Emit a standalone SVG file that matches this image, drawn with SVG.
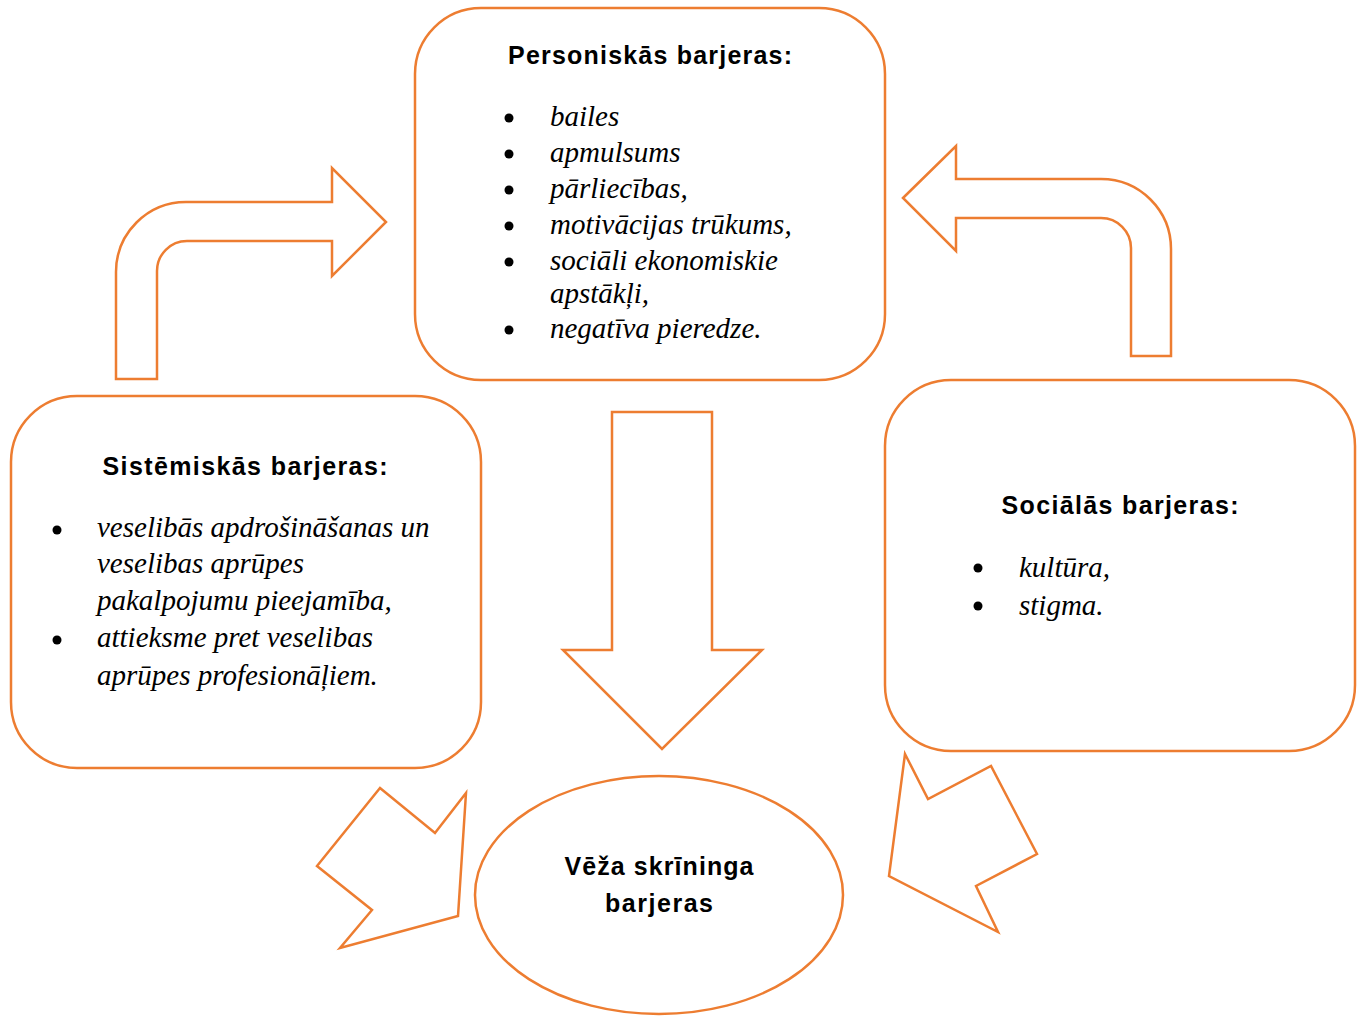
<svg xmlns="http://www.w3.org/2000/svg" width="1358" height="1016" viewBox="0 0 1358 1016">
<style>
.shape{fill:#fff;stroke:#ED7D31;stroke-width:2.5;stroke-linejoin:miter}
.title{font-family:"Liberation Sans",Arial,sans-serif;font-weight:bold;font-size:25px;fill:#000}
.item{font-family:"Liberation Serif","Times New Roman",serif;font-style:italic;font-size:29px;fill:#000}
.dot{fill:#000}
</style>
<rect width="1358" height="1016" fill="#fff"/>
<g id="connectors">
<path class="shape" d="M116,379 L116,272 A70,70 0 0 1 186,202 L332,202 L332,168 L386,222 L332,276 L332,241 L187,241 A30,30 0 0 0 157,271 L157,379 Z"/>
<path class="shape" d="M903,198 L956,146 L956,179 L1101,179 A70,70 0 0 1 1171,249 L1171,356 L1131,356 L1131,248 A30,30 0 0 0 1101,218 L956,218 L956,251 Z"/>
<path class="shape" d="M612,412 L712,412 L712,650 L762,650 L662,749 L563,650 L612,650 Z"/>
<polygon class="shape" points="380,788 435,833 466,793 458,916 340,948 372,910 317,866"/>
<polygon class="shape" points="905,754 928,799 991,766 1037,854 976,886 998,932 889,876"/>
</g>
<g id="personal">
<rect class="shape" x="415" y="8" width="470" height="372" rx="66" ry="66"/>
<text class="title" x="650" y="64" text-anchor="middle" textLength="284" lengthAdjust="spacing">Personiskās barjeras:</text>
<circle class="dot" cx="509" cy="118" r="4.5"/>
<circle class="dot" cx="509" cy="154" r="4.5"/>
<circle class="dot" cx="509" cy="190" r="4.5"/>
<circle class="dot" cx="509" cy="226" r="4.5"/>
<circle class="dot" cx="509" cy="262" r="4.5"/>
<circle class="dot" cx="509" cy="330" r="4.5"/>
<text class="item" x="550" y="126">bailes</text>
<text class="item" x="550" y="162">apmulsums</text>
<text class="item" x="550" y="198">pārliecības,</text>
<text class="item" x="550" y="234">motivācijas trūkums,</text>
<text class="item" x="550" y="270">sociāli ekonomiskie</text>
<text class="item" x="550" y="303">apstākļi,</text>
<text class="item" x="550" y="338">negatīva pieredze.</text>
</g>
<g id="systemic">
<rect class="shape" x="11" y="396" width="470" height="372" rx="66" ry="66"/>
<text class="title" x="245" y="475" text-anchor="middle" textLength="285" lengthAdjust="spacing">Sistēmiskās barjeras:</text>
<circle class="dot" cx="57" cy="530" r="4.5"/>
<circle class="dot" cx="57" cy="640" r="4.5"/>
<text class="item" x="97" y="537">veselibās apdrošināšanas un</text>
<text class="item" x="97" y="573">veselibas aprūpes</text>
<text class="item" x="97" y="610">pakalpojumu pieejamība,</text>
<text class="item" x="97" y="647">attieksme pret veselibas</text>
<text class="item" x="97" y="685">aprūpes profesionāļiem.</text>
</g>
<g id="social">
<rect class="shape" x="885" y="380" width="470" height="371" rx="66" ry="66"/>
<text class="title" x="1120" y="514" text-anchor="middle" textLength="237" lengthAdjust="spacing">Sociālās barjeras:</text>
<circle class="dot" cx="978" cy="568" r="4.5"/>
<circle class="dot" cx="978" cy="606" r="4.5"/>
<text class="item" x="1019" y="577">kultūra,</text>
<text class="item" x="1019" y="615">stigma.</text>
</g>
<g id="screening">
<ellipse class="shape" cx="659" cy="895" rx="184" ry="119"/>
<text class="title" x="659" y="875" text-anchor="middle" textLength="189" lengthAdjust="spacing">Vēža skrīninga</text>
<text class="title" x="659" y="912" text-anchor="middle" textLength="108" lengthAdjust="spacing">barjeras</text>
</g>
</svg>
